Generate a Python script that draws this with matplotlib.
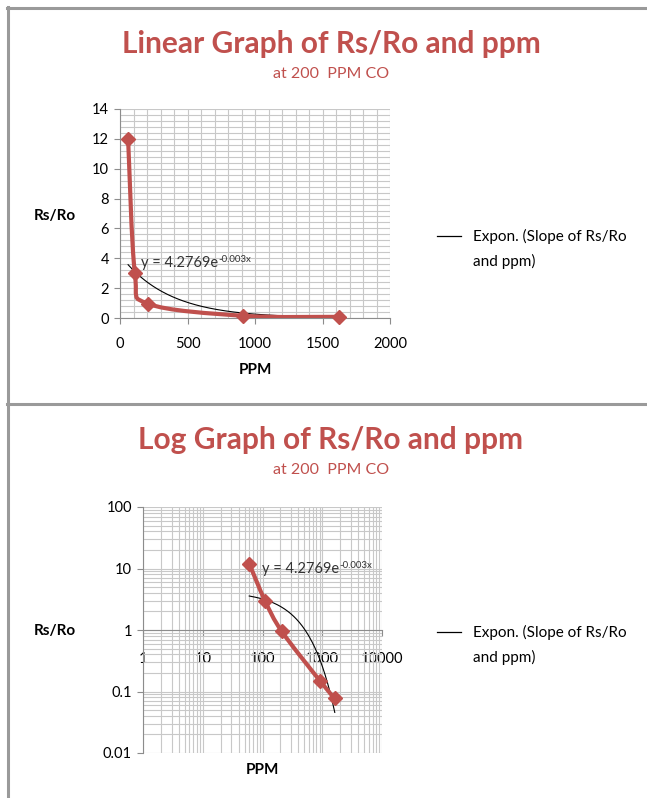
import matplotlib
matplotlib.use('Agg')
import matplotlib.pyplot as plt
from matplotlib.lines import Line2D
from matplotlib.patches import PathPatch
from matplotlib.path import Path
from matplotlib.ticker import MultipleLocator, LogLocator, FixedLocator
import numpy as np

plt.rcParams['font.family'] = ['Lato', 'DejaVu Sans']

# data
ppm = [60, 110, 210, 910, 1620]
rs_ro = [12.0, 3.0, 0.95, 0.15, 0.077]

# exponential trendline, as Excel fits it (least squares on ln y)
slope, icpt = np.polyfit(ppm, np.log(rs_ro), 1)
x_fit = np.linspace(min(ppm), max(ppm), 200)
y_fit = np.exp(icpt) * np.exp(slope * x_fit)

lin_xticks = [0, 500, 1000, 1500, 2000]
lin_yticks = [0, 2, 4, 6, 8, 10, 12, 14]
log_xticks = [1, 10, 100, 1000, 10000]
log_yticks = [0.01, 0.1, 1, 10, 100]
log_ylabels = ['0.01', '0.1', '1', '10', '100']

RED = '#C0504D'
GRID = '#C8C8C8'
SPINE = '#8C8C8C'
W, H = 647, 798

fig = plt.figure(figsize=(W / 100, H / 100), dpi=100)


def fx(px):
    return px / W


def fy(py):
    return 1 - py / H


def smooth_line(ax, xs, ys):
    # Excel-style smoothed line: cubic Bezier through the points (screen space)
    pts = ax.transData.transform(np.column_stack([xs, ys]))
    n = len(pts)
    verts = [pts[0]]
    codes = [Path.MOVETO]
    for i in range(n - 1):
        p0 = pts[max(i - 1, 0)]
        p1 = pts[i]
        p2 = pts[i + 1]
        p3 = pts[min(i + 2, n - 1)]
        verts += [p1 + (p2 - p0) / 6, p2 - (p3 - p1) / 6, p2]
        codes += [Path.CURVE4] * 3
    verts = ax.transData.inverted().transform(np.array(verts))
    ax.add_patch(PathPatch(Path(verts, codes), facecolor='none', edgecolor=RED,
                           lw=3, joinstyle='round', capstyle='round', zorder=4))
    ax.plot(xs, ys, ls='none', marker='D', ms=7.5, color=RED, zorder=5, clip_on=False)


# ============ panel borders ============
for (x0, y0, x1, y1) in [(7, 7.5, 647, 7.5), (8, 7, 8, 798), (7, 404, 647, 404)]:
    fig.add_artist(Line2D([fx(x0), fx(x1)], [fy(y0), fy(y1)], color='#9A9A9A', lw=2.2))


def titles(ytitle, ysub, text):
    fig.text(fx(331), fy(ytitle), text, ha='center', va='center',
             fontsize=21.5, fontweight='bold', color=RED)
    fig.text(fx(331), fy(ysub), "at 200  PPM CO", ha='center', va='center',
             fontsize=11.5, color=RED)


def legend_and_eq(ax_, ly, ex, ey):
    fig.add_artist(Line2D([fx(437), fx(461)], [fy(ly), fy(ly)], color='black', lw=0.9))
    fig.text(fx(473), fy(ly), "Expon. (Slope of Rs/Ro", ha='left', va='center',
             fontsize=11, color='black')
    fig.text(fx(473), fy(ly + 25), "and ppm)", ha='left', va='center',
             fontsize=11, color='black')
    t = fig.text(fx(ex), fy(ey), "y = 4.2769e", ha='left', va='center',
                 fontsize=10.5, color='#333333')
    ax_.annotate("-0.003x", xy=(1, 1.05), xycoords=t, ha='left', va='top',
                 fontsize=7, color='#333333')


# ============ TOP: linear graph ============
titles(44, 74, "Linear Graph of Rs/Ro and ppm")
ax1 = fig.add_axes([fx(120), fy(318), fx(390) - fx(120), fy(109) - fy(318)])
ax1.set_xlim(0, 2000)
ax1.set_ylim(0, 14)
ax1.xaxis.set_major_locator(FixedLocator(lin_xticks))
ax1.yaxis.set_major_locator(FixedLocator(lin_yticks))
ax1.xaxis.set_minor_locator(MultipleLocator(100))
ax1.yaxis.set_minor_locator(MultipleLocator(0.4))
ax1.grid(which='both', color=GRID, lw=0.8)
ax1.set_axisbelow(True)
for s in ['top', 'right']:
    ax1.spines[s].set_visible(False)
for s in ['left', 'bottom']:
    ax1.spines[s].set_color(SPINE)
ax1.tick_params(which='major', direction='out', length=4, color=SPINE, labelsize=10.5, pad=4)
ax1.tick_params(which='minor', length=0)
ax1.tick_params(axis='x', pad=10)
ax1.plot(x_fit, y_fit, color='black', lw=0.8, zorder=3)
smooth_line(ax1, ppm, rs_ro)
fig.text(fx(55), fy(216), "Rs/Ro", ha='center', va='center', fontsize=11, fontweight='bold')
fig.text(fx(255), fy(370), "PPM", ha='center', va='center', fontsize=11, fontweight='bold')
legend_and_eq(ax1, 236, 141, 263)

# ============ BOTTOM: log graph ============
titles(440, 470, "Log Graph of Rs/Ro and ppm")
ax2 = fig.add_axes([fx(143), fy(753), fx(382) - fx(143), fy(507) - fy(753)])
ax2.set_xscale('log')
ax2.set_yscale('log')
ax2.set_xlim(1, 10000)
ax2.set_ylim(0.01, 100)
ax2.xaxis.set_major_locator(FixedLocator(log_xticks))
ax2.yaxis.set_major_locator(FixedLocator(log_yticks))
ax2.xaxis.set_minor_locator(LogLocator(base=10, subs=np.arange(2, 10)))
ax2.yaxis.set_minor_locator(LogLocator(base=10, subs=np.arange(2, 10)))
ax2.set_xticklabels([str(v) for v in log_xticks])
ax2.set_yticklabels(log_ylabels)
ax2.grid(which='both', color=GRID, lw=0.8)
ax2.set_axisbelow(True)
for s in ['top', 'right']:
    ax2.spines[s].set_visible(False)
ax2.spines['bottom'].set_position(('data', 1))
for s in ['left', 'bottom']:
    ax2.spines[s].set_color(SPINE)
ax2.tick_params(which='major', direction='out', length=4, color=SPINE, labelsize=10.5, pad=4)
ax2.tick_params(which='minor', length=0)
ax2.tick_params(axis='x', pad=12)
ax2.plot(x_fit, y_fit, color='black', lw=0.8, zorder=3)
smooth_line(ax2, ppm, rs_ro)
fig.text(fx(55), fy(631), "Rs/Ro", ha='center', va='center', fontsize=11, fontweight='bold')
fig.text(fx(262), fy(770), "PPM", ha='center', va='center', fontsize=11, fontweight='bold')
legend_and_eq(ax2, 632, 262, 569)

fig.savefig('out.png', dpi=100, facecolor='white')
plt.close()
